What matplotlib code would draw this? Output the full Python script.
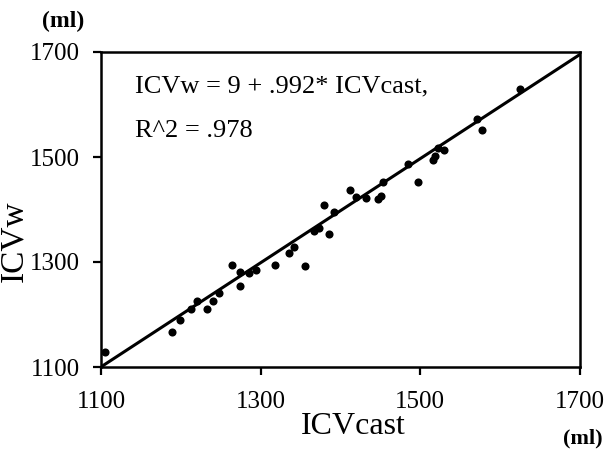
import numpy as np
import matplotlib.pyplot as plt

plt.rcParams['font.family'] = ['Liberation Serif', 'DejaVu Serif']

# values (ml)
icv_cast = [1105, 1189, 1199, 1213, 1233, 1220, 1240, 1248, 1264, 1274,
            1274, 1286, 1294, 1318, 1335, 1342, 1355, 1367, 1373, 1385,
            1379, 1392, 1412, 1420, 1432, 1447, 1451, 1453, 1484, 1497,
            1516, 1522, 1530, 1518, 1571, 1577, 1625]
icv_w = [1129, 1167, 1190, 1210, 1210, 1226, 1226, 1241, 1295, 1281,
         1254, 1279, 1284, 1294, 1318, 1329, 1293, 1360, 1365, 1354,
         1409, 1395, 1438, 1423, 1421, 1420, 1426, 1453, 1487, 1452,
         1494, 1518, 1513, 1502, 1572, 1551, 1630]
intercept = 9
slope = 0.992
ticks = [1100, 1300, 1500, 1700]

fig = plt.figure(figsize=(6.09, 4.51), dpi=100)
ax = fig.add_axes([101 / 609, 84 / 451, 479 / 609, 315 / 451])

ax.scatter(icv_cast, icv_w, s=34, color='black', zorder=3, linewidths=0)
xx = np.array([1100, 1700])
ax.plot(xx, intercept + slope * xx, color='black', linewidth=2.2)

ax.set_xlim(1100, 1700)
ax.set_ylim(1100, 1700)
ax.set_xticks(ticks)
ax.set_yticks(ticks)
ax.tick_params(direction='out', length=6, width=1.6, labelsize=18)
ax.tick_params(axis='x', pad=11)
ax.tick_params(axis='y', pad=9)
for s in ax.spines.values():
    s.set_linewidth(1.8)

ax.set_xlabel('ICVcast', fontsize=23)
ax.xaxis.set_label_coords(0.527, -0.143)
ax.set_ylabel('ICVw', fontsize=24)
ax.yaxis.set_label_coords(-0.150, 0.40)

ax.text(0.07, 0.873, 'ICVw = 9 + .992* ICVcast,', transform=ax.transAxes,
        fontsize=19, va='baseline', ha='left')
ax.text(0.07, 0.730, 'R^2 = .978', transform=ax.transAxes,
        fontsize=19, va='baseline', ha='left')

fig.text(63 / 609, 1 - 21 / 451, '(ml)', fontsize=17, fontweight='bold',
         va='center', ha='center')
fig.text(583 / 609, 1 - 438 / 451, '(ml)', fontsize=16, fontweight='bold',
         va='center', ha='center')

plt.savefig('out.png', dpi=100)
